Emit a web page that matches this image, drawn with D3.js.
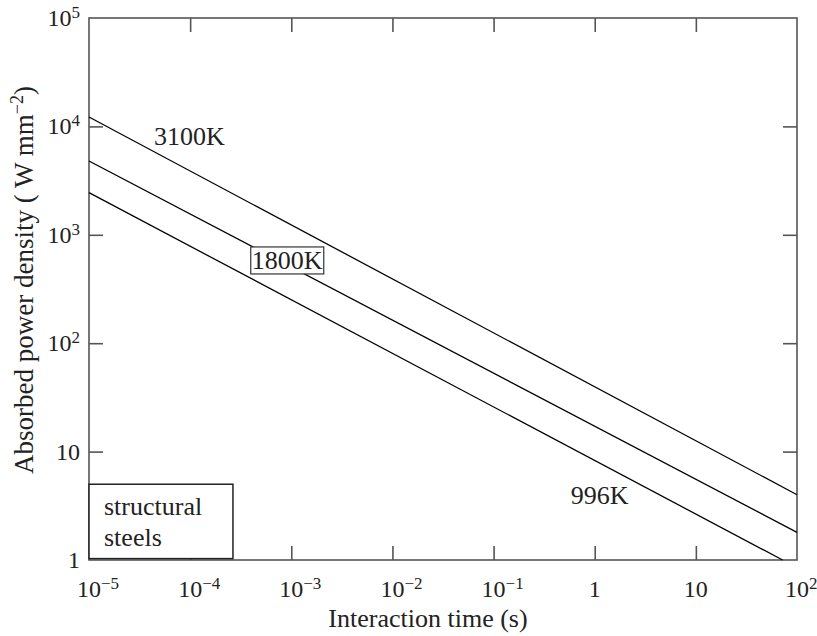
<!DOCTYPE html>
<html>
<head>
<script src="https://d3js.org/d3.v7.min.js"></script>
<style>
  body { margin: 0; background: #fff; }
  svg text { font-family: "Liberation Serif", "DejaVu Serif", serif; fill: #222; }
  .frame { fill: none; stroke: #555; stroke-width: 1.6; }
  .tick line { stroke: #555; stroke-width: 1.6; }
  .domain { display: none; }
  .curve { fill: none; stroke: #000; stroke-width: 1.3; }
</style>
</head>
<body>
<div id="chart"></div>
<script>
// Temperature curves: absorbed power density vs interaction time (endpoints)
const curveNames = ["3100K", "1800K", "996K"];
const curveTimes = [[1e-5, 100], [1e-5, 100], [1e-5, 72]];
const curvePower = [[12200, 4.0], [4800, 1.8], [2450, 1.0]];

// Decade ticks
const xTickExp = [-5, -4, -3, -2, -1, 0, 1, 2];
const yTickExp = [0, 1, 2, 3, 4, 5];

// Annotation anchors in data units
const labelTimes = [4.4e-5, 9.1e-4, 0.58];
const labelPower = [6800, 580, 3.3];
const steelBoxTime = [1e-5, 2.65e-4];
const steelBoxPower = [1.03, 5.0];
const steelLines = ["structural", "steels"];

const W = 817, H = 636;
const margin = {top: 18, right: 20, bottom: 76, left: 89};
const iw = W - margin.left - margin.right;
const ih = H - margin.top - margin.bottom;

const svg = d3.select("#chart").append("svg").attr("width", W).attr("height", H);
const g = svg.append("g").attr("transform", `translate(${margin.left},${margin.top})`);

const x = d3.scaleLog().domain([1e-5, 1e2]).range([0, iw]);
const y = d3.scaleLog().domain([1, 1e5]).range([ih, 0]);

const xt = xTickExp.map(e => Math.pow(10, e));
const yt = yTickExp.map(e => Math.pow(10, e));
const tk = 14;

// inward ticks on all four sides
g.append("g").attr("transform", `translate(0,${ih})`)
  .call(d3.axisBottom(x).tickValues(xt.slice(1, -1)).tickSize(-tk).tickFormat(""));
g.append("g")
  .call(d3.axisTop(x).tickValues(xt.slice(1, -1)).tickSize(-tk).tickFormat(""));
g.append("g")
  .call(d3.axisLeft(y).tickValues(yt.slice(1, -1)).tickSize(-tk).tickFormat(""));
g.append("g").attr("transform", `translate(${iw},0)`)
  .call(d3.axisRight(y).tickValues(yt.slice(1, -1)).tickSize(-tk).tickFormat(""));

g.append("rect").attr("class", "frame").attr("width", iw).attr("height", ih);

// power label helper: base "10" with superscript exponent
function powLabel(sel, exp) {
  if (exp === 0) { sel.append("tspan").text("1"); return; }
  if (exp === 1) { sel.append("tspan").text("10"); return; }
  sel.append("tspan").text("10");
  sel.append("tspan").attr("dy", -8).style("font-size", "17px")
    .text(exp < 0 ? "\u2212" + (-exp) : String(exp));
}

// x tick labels: base centred on tick
xTickExp.forEach(e => {
  const t = g.append("text").attr("y", ih + 37).style("font-size", "24px");
  powLabel(t, e);
  const base = t.select("tspan").node().getComputedTextLength();
  t.attr("x", x(Math.pow(10, e)) - base / 2);
});

// y tick labels: right aligned
yTickExp.forEach(e => {
  const t = g.append("text").attr("x", -9).attr("y", y(Math.pow(10, e)) + 8)
    .attr("text-anchor", "end").style("font-size", "24px");
  powLabel(t, e);
});

// axis titles
svg.append("text").attr("x", 428).attr("y", 627).attr("text-anchor", "middle")
  .style("font-size", "26px").text("Interaction time (s)");
const yl = svg.append("text").attr("transform", "translate(33,280) rotate(-90)")
  .attr("text-anchor", "middle").style("font-size", "27px");
yl.append("tspan").text("Absorbed power density ( W mm");
yl.append("tspan").attr("dy", -10).style("font-size", "18px").text("\u22122");
yl.append("tspan").attr("dy", 10).text(")");

// curves
const line = d3.line().x(d => x(d[0])).y(d => y(d[1]));
curveNames.forEach((n, i) => {
  const pts = curveTimes[i].map((t, j) => [t, curvePower[i][j]]);
  g.append("path").attr("class", "curve").attr("d", line(pts));
});

// curve labels
curveNames.forEach((n, i) => {
  const t = g.append("text").attr("x", x(labelTimes[i])).attr("y", y(labelPower[i]))
    .style("font-size", "26px").text(n);
  if (i === 1) {
    t.attr("text-anchor", "middle").attr("dominant-baseline", "central");
    const b = t.node().getBBox();
    g.append("rect").attr("x", b.x - 1).attr("y", b.y + 1)
      .attr("width", b.width + 2).attr("height", b.height - 2)
      .attr("fill", "#fff").attr("stroke", "#333").attr("stroke-width", 1.2);
    t.raise();
  }
});

// structural steels box
g.append("rect")
  .attr("x", x(steelBoxTime[0])).attr("y", y(steelBoxPower[1]))
  .attr("width", x(steelBoxTime[1]) - x(steelBoxTime[0]))
  .attr("height", y(steelBoxPower[0]) - y(steelBoxPower[1]))
  .attr("fill", "#fff").attr("stroke", "#222").attr("stroke-width", 1.5);
steelLines.forEach((s, i) => {
  g.append("text").attr("x", x(steelBoxTime[0]) + 15).attr("y", y(steelBoxPower[1]) + 31 + i * 31)
    .style("font-size", "26px").text(s);
});
</script>
</body>
</html>
